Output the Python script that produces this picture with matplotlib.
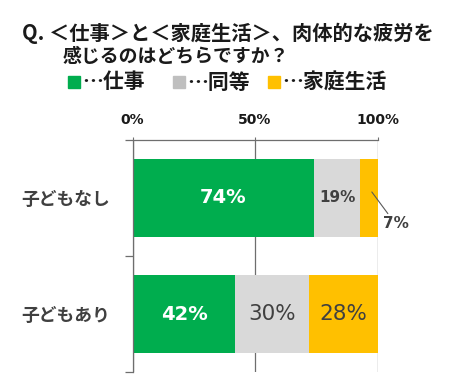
import matplotlib
matplotlib.use("Agg")
import matplotlib.pyplot as plt
import numpy as np

plt.rcParams['font.family'] = ['Noto Sans CJK JP', 'DejaVu Sans']

# ---- data ----
categories = ['子どもなし', '子どもあり']
series_names = ['仕事', '同等', '家庭生活']
work = [74, 42]
same = [19, 30]
home = [7, 28]
x_ticks = [0, 50, 100]
x_tick_labels = ['0%', '50%', '100%']
title_lines = ['Q. ＜仕事＞と＜家庭生活＞、肉体的な疲労を', '感じるのはどちらですか？']

colors = ['#00AD4E', '#D9D9D9', '#FFC000']
label_colors = [['white', '#404040', '#404040'], ['white', '#404040', '#404040']]

W, H = 466, 386
fig = plt.figure(figsize=(W / 100, H / 100), dpi=100)
fig.patch.set_facecolor('white')

ax = fig.add_axes([132.5 / W, (H - 372) / H, 245 / W, (372 - 140) / H])

y = np.arange(len(categories))
series = [work, same, home]
left = np.zeros(len(categories))
bars = []
for vals, c in zip(series, colors):
    b = ax.barh(y, vals, left=left, height=0.675, color=c, zorder=2, linewidth=0)
    bars.append((b, np.array(vals), left.copy()))
    left = left + np.array(vals)

ax.set_xlim(0, 100)
ax.set_ylim(1.5, -0.5)

# data labels
for si, (b, vals, lefts) in enumerate(bars):
    for ci in range(len(categories)):
        v = vals[ci]
        cx = lefts[ci] + v / 2
        txt = f'{v}%'
        if ci == 0 and si == 2:
            ax.annotate(txt, xy=(cx - 0.5, y[ci] - 0.1), xytext=(20, -27),
                        textcoords='offset points', ha='center', va='center',
                        fontsize=11, fontweight='bold', color='#404040',
                        family='DejaVu Sans',
                        arrowprops=dict(arrowstyle='-', color='#595959', lw=0.8,
                                        shrinkA=0, shrinkB=5), zorder=4)
        elif ci == 0 and si == 1:
            ax.text(cx, y[ci], txt, ha='center', va='center', fontsize=11,
                    fontweight='bold', color='#404040', family='DejaVu Sans', zorder=4)
        else:
            col = label_colors[ci][si]
            if col == 'white':
                ax.text(cx, y[ci], txt, ha='center', va='center', fontsize=14,
                        fontweight='bold', color=col, family='DejaVu Sans', zorder=4)
            else:
                ax.text(cx, y[ci], txt, ha='center', va='center', fontsize=15.5,
                        fontweight='normal', color=col, family='DejaVu Sans', zorder=4)

# axes styling
axis_col = '#6E6E6E'
ax.xaxis.tick_top()
ax.set_xticks(x_ticks)
ax.set_xticklabels(x_tick_labels, fontsize=10, fontweight='bold', family='DejaVu Sans',
                   color='#1A1A1A')
ax.tick_params(axis='x', length=2.5, color=axis_col, pad=6.5)
ax.grid(axis='x', color=axis_col, lw=0.9, zorder=0)
ax.set_axisbelow(True)

ax.set_yticks(y)
ax.set_yticklabels(categories, fontsize=12.8, fontweight='bold', color='#404040')
ax.tick_params(axis='y', which='major', length=0, pad=16.5)
ax.set_yticks([-0.5, 0.5, 1.5], minor=True)
ax.tick_params(axis='y', which='minor', length=5.5, color=axis_col, width=0.9)

for s in ['right', 'bottom']:
    ax.spines[s].set_visible(False)
for s in ['top', 'left']:
    ax.spines[s].set_color(axis_col)
    ax.spines[s].set_linewidth(0.9)

# title
fig.text(22 / W, 1 - 33 / H, title_lines[0], ha='left', va='center', fontsize=14.6,
         fontweight='bold', color='#1A1A1A')
fig.text(63 / W, 1 - 57 / H, title_lines[1], ha='left', va='center', fontsize=13.6,
         fontweight='bold', color='#1A1A1A')

# legend
sq_x = [68, 173, 268]
for name, c, sx in zip(series_names, colors, sq_x):
    sq_col = '#BFBFBF' if c == '#D9D9D9' else c
    fig.patches.append(plt.Rectangle((sx / W, 1 - 88 / H), 12 / W, 12 / H,
                                     transform=fig.transFigure, color=sq_col))
    fig.text((sx + 14) / W, 1 - 82 / H, '…' + name, ha='left', va='center',
             fontsize=15, fontweight='bold', color='#1A1A1A')

fig.savefig('out.png', dpi=100, facecolor='white')
